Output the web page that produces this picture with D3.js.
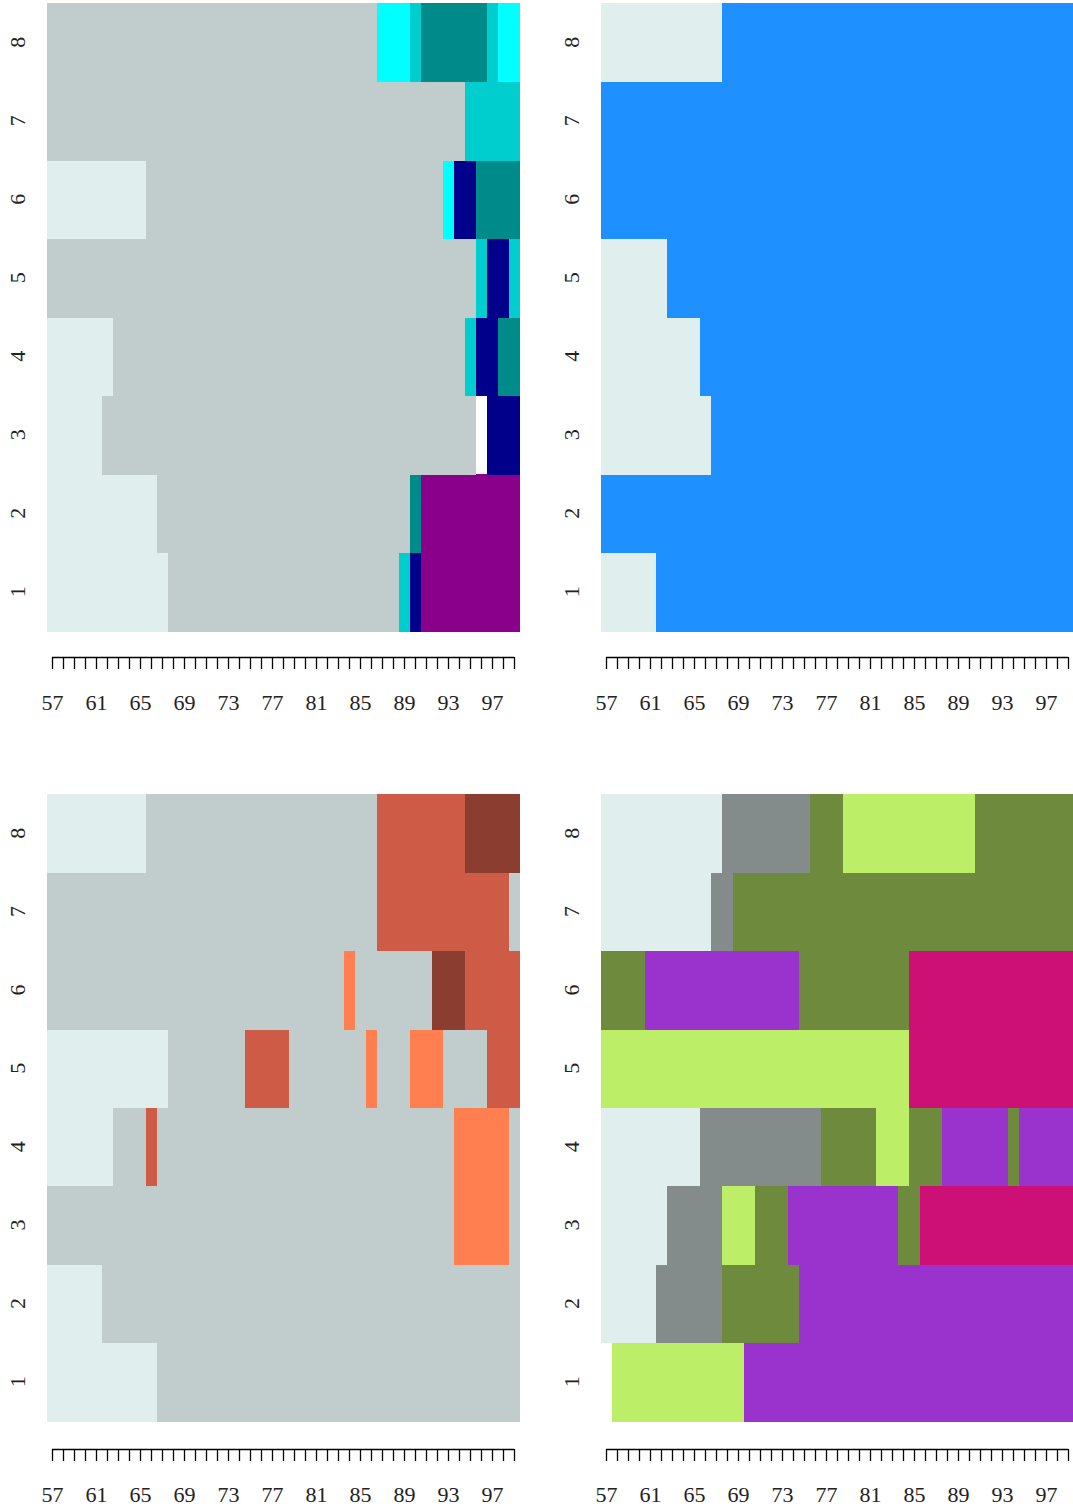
<!DOCTYPE html>
<html><head><meta charset="utf-8">
<script src="https://cdn.jsdelivr.net/npm/d3@7/dist/d3.min.js"></script>
<style>body{margin:0;background:#fff} svg{display:block}</style>
</head><body>
<svg id="c" width="1073" height="1508"></svg>
<script>
// ---------- data ----------
const rowLabels = ["1","2","3","4","5","6","7","8"];
const tickYears = [57,58,59,60,61,62,63,64,65,66,67,68,69,70,71,72,73,74,75,76,77,78,79,80,81,82,83,84,85,86,87,88,89,90,91,92,93,94,95,96,97,98,99];
const labelYears = [57,61,65,69,73,77,81,85,89,93,97];

// state colours per panel
const colorsA = {L:"#e0eeee", G:"#c1cdcd", C:"#00ffff", D:"#00cdcd", T:"#008b8b", N:"#00008b", P:"#8b008b"};
const colorsB = {L:"#e0eeee", B:"#1e90ff"};
const colorsC = {L:"#e0eeee", G:"#c1cdcd", R:"#cd5b45", K:"#8b3e2f", O:"#ff7f50"};
const colorsD = {L:"#e0eeee", A:"#838b8b", V:"#6e8b3d", Y:"#bcee68", U:"#9a32cd", M:"#cd1076"};

// runs per row (row 1 first): [state, fromYear, toYear]
const rowsA = [
  [["L",57,67],["G",68,88],["D",89,89],["N",90,90],["P",91,99]],
  [["L",57,66],["G",67,89],["T",90,90],["P",91,99]],
  [["L",57,61],["G",62,95],["N",97,99]],
  [["L",57,62],["G",63,94],["D",95,95],["N",96,97],["T",98,99]],
  [["G",57,95],["D",96,96],["N",97,98],["D",99,99]],
  [["L",57,65],["G",66,92],["C",93,93],["N",94,95],["T",96,99]],
  [["G",57,94],["D",95,99]],
  [["G",57,86],["C",87,89],["D",90,90],["T",91,96],["D",97,97],["C",98,99]]
];
const rowsB = [
  [["L",57,61],["B",62,99]],
  [["B",57,99]],
  [["L",57,66],["B",67,99]],
  [["L",57,65],["B",66,99]],
  [["L",57,62],["B",63,99]],
  [["B",57,99]],
  [["B",57,99]],
  [["L",57,67],["B",68,99]]
];
const rowsC = [
  [["L",57,66],["G",67,99]],
  [["L",57,61],["G",62,99]],
  [["G",57,93],["O",94,98],["G",99,99]],
  [["L",57,62],["G",63,65],["R",66,66],["G",67,93],["O",94,98],["G",99,99]],
  [["L",57,67],["G",68,74],["R",75,78],["G",79,85],["O",86,86],["G",87,89],["O",90,92],["G",93,96],["R",97,99]],
  [["G",57,83],["O",84,84],["G",85,91],["K",92,94],["R",95,99]],
  [["G",57,86],["R",87,98],["G",99,99]],
  [["L",57,65],["G",66,86],["R",87,94],["K",95,99]]
];
const rowsD = [
  [["Y",58,69],["U",70,99]],
  [["L",57,61],["A",62,67],["V",68,74],["U",75,99]],
  [["L",57,62],["A",63,67],["Y",68,70],["V",71,73],["U",74,83],["V",84,85],["M",86,99]],
  [["L",57,65],["A",66,76],["V",77,81],["Y",82,84],["V",85,87],["U",88,93],["V",94,94],["U",95,99]],
  [["Y",57,84],["M",85,99]],
  [["V",57,60],["U",61,74],["V",75,84],["M",85,99]],
  [["L",57,66],["A",67,68],["V",69,99]],
  [["L",57,67],["A",68,75],["V",76,78],["Y",79,90],["V",91,99]]
];

// ---------- layout ----------
const panels = [
  {rows: rowsA, colors: colorsA, x0: 46.5, x1: 519.5, y0: 3,   y1: 631,  axisY: 657},
  {rows: rowsB, colors: colorsB, x0: 600.5, x1: 1073.5, y0: 3, y1: 631,  axisY: 657},
  {rows: rowsC, colors: colorsC, x0: 46.5, x1: 519.5, y0: 794, y1: 1421, axisY: 1449},
  {rows: rowsD, colors: colorsD, x0: 600.5, x1: 1073.5, y0: 794, y1: 1421, axisY: 1449}
];

const svg = d3.select("#c");
const FONT = "'Liberation Serif','Times New Roman',serif";
const FS = 22;

panels.forEach(p => {
  const x = d3.scaleLinear().domain([56.5, 99.5]).range([p.x0, p.x1]);
  const y = d3.scaleBand().domain(rowLabels.slice().reverse()).range([p.y0, p.y1]).padding(0);
  const g = svg.append("g");

  const cells = [];
  p.rows.forEach((runs, i) => runs.forEach(r => cells.push({row: rowLabels[i], s: r[0], a: r[1], b: r[2]})));

  g.append("g").attr("shape-rendering","crispEdges")
    .selectAll("rect").data(cells).join("rect")
    .attr("x", d => x(d.a - 0.5))
    .attr("width", d => x(d.b + 0.5) - x(d.a - 0.5))
    .attr("y", d => y(d.row))
    .attr("height", y.bandwidth() + 0.6)
    .attr("fill", d => p.colors[d.s]);

  // y labels (rotated)
  g.selectAll("text.ylab").data(rowLabels).join("text")
    .attr("class","ylab")
    .attr("transform", d => `translate(${p.x0 - 29.5},${y(d) + y.bandwidth()/2}) rotate(-90)`)
    .attr("text-anchor","middle")
    .attr("dy","0.35em")
    .attr("fill","#222")
    .style("font-family", FONT).style("font-size", FS + "px")
    .text(d => d);

  // x axis
  const ax = d3.axisBottom(x).tickValues(tickYears).tickSize(12).tickSizeOuter(0)
    .tickFormat(d => labelYears.includes(d) ? String(d) : "");
  const ag = g.append("g").attr("transform", `translate(0,${p.axisY})`).call(ax);
  ag.select(".domain").remove();
  ag.append("line")
    .attr("x1", x(tickYears[0])).attr("x2", x(tickYears[tickYears.length-1]))
    .attr("y1", 0.5).attr("y2", 0.5).attr("stroke","#000").attr("stroke-width",1.3);
  ag.selectAll(".tick line").attr("stroke","#000").attr("stroke-width",1.3);
  ag.selectAll(".tick text")
    .attr("y", 45)
    .attr("dy","0.35em")
    .attr("fill","#222")
    .style("font-family", FONT).style("font-size", FS + "px");
});
</script>
</body></html>
